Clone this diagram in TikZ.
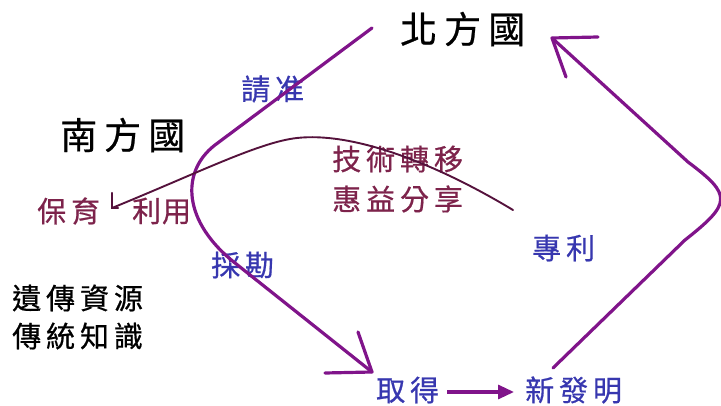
\documentclass[tikz,border=0pt]{standalone}
\usepackage{fontspec}
\newfontfamily\cjk[FakeBold=0.6]{Noto Sans CJK TC}
\usetikzlibrary{arrows.meta}
\definecolor{purp}{RGB}{128,20,138}
\definecolor{maro}{RGB}{125,35,75}
\definecolor{blu}{RGB}{55,55,175}
\definecolor{thinc}{RGB}{85,18,60}
\begin{document}
\begin{tikzpicture}[x=1pt,y=-1pt,
  lbl/.style={anchor=west,inner sep=0pt},
  bigtxt/.style={lbl,font=\cjk\fontsize{37}{42}\selectfont\addfontfeature{LetterSpace=19}},
  midtxt/.style={lbl,font=\cjk\fontsize{29}{34}\selectfont\addfontfeature{LetterSpace=17}},
  tighttxt/.style={lbl,font=\cjk\fontsize{29}{34}\selectfont\addfontfeature{LetterSpace=3}},
  bigline/.style={purp,line width=3.2pt,line cap=round,line join=round},
  thinline/.style={thinc,line width=1.9pt,line cap=round}]
\useasboundingbox (0,0) rectangle (721,406);
% labels
\node[bigtxt,text=black] (bei) at (400,29) {北方國};
\node[bigtxt,text=black] (nan) at (60,135) {南方國};
\node[midtxt,text=maro] (baoyu) at (37,211) {保育};
\node[tighttxt,text=maro] (liyong) at (132,211) {利用};
\node[midtxt,text=blu] (qingzhun) at (241,89) {請准};
\node[midtxt,text=maro] (jishu) at (332,159) {技術轉移};
\node[midtxt,text=maro] (huiyi) at (332,199) {惠益分享};
\node[midtxt,text=blu] (zhuanli) at (532,248) {專利};
\node[midtxt,text=blu] (tankan) at (211,265) {採勘};
\node[midtxt,text=black] (yichuan) at (12,298) {遺傳資源};
\node[midtxt,text=black] (chuantong) at (12,336) {傳統知識};
\node[midtxt,text=blu] (qude) at (376,390) {取得};
\node[midtxt,text=blu] (xin) at (525,390) {新發明};
% coordinates
\coordinate (ls) at (372,28);
\coordinate (lt) at (372,372);
\coordinate (rs) at (553,368);
\coordinate (rt) at (552,38);
\coordinate (ts) at (513,210);
\coordinate (te) at (112,208);
% left big curve
\draw[bigline] (ls) -- (215,145) .. controls (180,172) and (183,222) .. (235,263) -- (lt);
\draw[bigline] (325,373) -- (lt) -- (358,332);
% right big curve
\draw[bigline] (rs) -- (685,240) .. controls (732,203) and (732,195) .. (688,162) -- (rt);
\draw[bigline] (598,37) -- (rt) -- (566,77);
% thin curve
\draw[thinline] (ts) .. controls (430,160) and (350,132) .. (297,138)
  .. controls (260,142) and (200,172) .. (te);
\draw[thinc,line width=2.2pt,line cap=round] (112,193) -- (te) -- (118,208);
% small arrow
\coordinate (as) at (447,392);
\coordinate (ae) at (514,392);
\draw[purp,line width=3.2pt,-{Triangle[length=16pt,width=14pt]}] (as) -- (ae);
\end{tikzpicture}
\end{document}
